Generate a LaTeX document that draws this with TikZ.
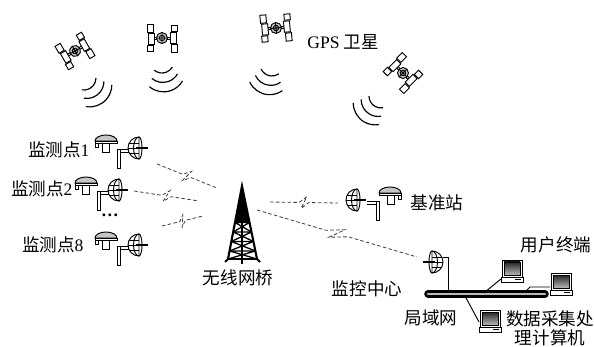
\documentclass[tikz,border=0pt]{standalone}
\usepackage{fontspec}
\setmainfont{Liberation Serif}
\newfontfamily\cjk{Noto Sans CJK SC}
\usetikzlibrary{calc}

\tikzset{
  lbl/.style={font=\fontsize{15}{16}\selectfont\cjk, inner sep=0pt},
  radio/.style={densely dashed, gray!50!black, line width=0.7pt},
  sat/.pic={
    \draw (-10,-1) -- (10,-1) (-10,1) -- (10,1);
    \foreach \a/\b/\c/\d in {-15/-14/-9/-6, -14/-5/-8/6, -15/7/-9/13, 9/-13/15/-7, 8/-6/14/5, 9/6/15/14}
      \draw[fill=white] (\a,\b) rectangle (\c,\d);
    \draw[fill=gray!45] (0,0) circle (5.5);
    \draw (0,0) circle (2.7) (-5.5,0) -- (5.5,0) (0,-5.5) -- (0,5.5);
  },
  waves/.pic={
    \foreach \k in {0,1,2}
      \draw[line width=1pt] ([shift={(0,4.5*\k)}]140:{12+5*\k}) arc[start angle=140, end angle=40, radius={12+5*\k}];
  },
  dish/.pic={
    \draw[fill=white] (0,-11) arc[start angle=270, end angle=90, radius=11] -- cycle;
    \draw (0,-11) arc[start angle=270, end angle=90, x radius=5.5, y radius=11];
    \draw (-9.8,-5) -- (0,-5) (-9.8,5) -- (0,5);
    \draw (0,-11) arc[start angle=-90, end angle=90, x radius=3, y radius=11];
    \draw (-11,0) -- (-3,0);
    \draw[line width=2pt] (-3,0) -- (9,0);
  },
  rover/.pic={
    \draw[fill=white] (-22,1) rectangle (-19,20);
    \draw (-19,1) -- (-10,1) (-19,4) -- (-10.3,4);
    \draw[fill=gray!45] (-44,-7) arc[start angle=180, end angle=360, x radius=11, y radius=6] -- cycle;
    \draw[fill=white] (-44,-7) rectangle (-22,-5);
    \draw (-44,-5) -- (-44,-1) -- (-41,-1) -- (-41,-5);
    \draw[fill=white] (-37,-5) rectangle (-30,4);
    \pic {dish};
  },
  pc/.pic={
    \draw[fill=white] (-10,-22) rectangle (10,-5);
    \shade[top color=black!85, bottom color=gray!55] (-8,-20) rectangle (8,-7);
    \draw (-8,-20) rectangle (8,-7);
    \draw[fill=white] (-11,-5) rectangle (11,0);
    \draw (3,-2.5) -- (9,-2.5);
  }
}

% dashed radio link with a small zigzag in the middle
\newcommand\wlink[2]{%
  \draw[radio] (#1) -- ($(#1)!0.43!(#2)$)
    -- ($($(#1)!0.54!(#2)$)!5pt!90:(#2)$)
    -- ($($(#1)!0.46!(#2)$)!5pt!-90:(#2)$)
    -- ($(#1)!0.57!(#2)$) -- (#2);}

\begin{document}
\begin{tikzpicture}[x=0.03cm, y=-0.03cm, line width=0.8pt]
  \path[fill=white] (0,0) rectangle (594,347);

  % satellites
  \pic[rotate=30] (sat1) at (75,51) {sat};
  \pic (sat2) at (162,38) {sat};
  \pic[rotate=5] (sat3) at (276,28) {sat};
  \pic[rotate=-45] (sat4) at (403,73) {sat};
  \pic[rotate=40] (w1) at (84,78) {waves};
  \pic[rotate=10] (w2) at (162,61) {waves};
  \pic[rotate=-15] (w3) at (272,64) {waves};
  \pic[rotate=-40] (w4) at (381,96) {waves};
  \node[lbl] (gps) at (343,42) {{\rmfamily GPS} 卫星};

  % stations
  \pic (pt1) at (139,148) {rover};
  \pic (pt2) at (119,190) {rover};
  \pic (pt8) at (139,245) {rover};
  \pic[xscale=-1] (base) at (357,200) {rover};
  \node[lbl, anchor=east] (lab1) at (90,150) {监测点{\rmfamily 1}};
  \node[lbl, anchor=east] (lab2) at (73,189) {监测点{\rmfamily 2}};
  \node[lbl, anchor=east] (lab8) at (84,245) {监测点{\rmfamily 8}};
  \node[lbl, font=\fontsize{15}{16}\selectfont\bfseries] (dots) at (110,215) {…};
  \node[lbl, anchor=west] (baselbl) at (410,203) {基准站};

  % tower
  \coordinate (top) at (242,186);
  \coordinate (bl) at (228,259);
  \coordinate (br) at (257,259);
  \fill (top) -- ($(top)!0.5!(bl)$) -- ($(top)!0.5!(br)$) -- cycle;
  \draw[line width=1.8pt] (bl) -- (top) -- (br);
  \draw[line width=1.5pt] (top) -- (242,264);
  \foreach \t/\u in {0.5/0.63,0.63/0.76,0.76/0.89,0.89/1}
    \draw[line width=1.1pt] ($(top)!\t!(bl)$) -- ($(top)!\t!(br)$)
      ($(top)!\t!(bl)$) -- ($(top)!\u!(br)$) ($(top)!\t!(br)$) -- ($(top)!\u!(bl)$);
  \draw[line width=1.1pt] (bl) -- (br);
  \draw[line width=1.8pt] (bl) -- ++(-3,3) (br) -- ++(3,3);
  \node[lbl] (bridge) at (238,278) {无线网桥};

  % radio links
  \coordinate (m1) at (157,164);
  \coordinate (t1) at (217,188);
  \coordinate (m2) at (134,191);
  \coordinate (t2) at (199,201);
  \coordinate (m8) at (162,226);
  \coordinate (t8) at (203,216);
  \coordinate (t4) at (270,202);
  \coordinate (b4) at (338,203);
  \coordinate (t5) at (257,210);
  \coordinate (c5) at (417,257);
  \wlink{m1}{t1}
  \wlink{m2}{t2}
  \wlink{m8}{t8}
  \wlink{t4}{b4}
  \wlink{t5}{c5}

  % control centre and LAN
  \pic[xscale=-1] (ctr) at (432,262) {dish};
  \node[lbl] (ctrlbl) at (367,289) {监控中心};
  \coordinate (ctrpole) at (443,257);
  \coordinate (lanL) at (428,294);
  \coordinate (lanR) at (545,294);
  \coordinate (lanA) at (448,294);
  \coordinate (lanB) at (485,292);
  \coordinate (lanC) at (525,292);
  \coordinate (lanD) at (465,296);
  \coordinate (pc1in) at (501,279);
  \coordinate (pc2in) at (550,287);
  \coordinate (pc3in) at (479,322);
  \draw (ctrpole) -| (lanA);
  \draw (lanB) -- (pc1in);
  \draw (lanC) -- (530,287) -- (pc2in);
  \draw (lanD) -- (pc3in);
  \draw[line width=6.5pt, line cap=round] (lanL) -- (lanR);
  \draw[line width=2.5pt, line cap=round, gray!55] (lanL) -- (lanR);
  \pic (pc1) at (512,282) {pc};
  \pic (pc2) at (561,295) {pc};
  \pic (pc3) at (490,332) {pc};
  \node[lbl] (lanlbl) at (431,318) {局域网};
  \node[lbl] (userlbl) at (556,245) {用户终端};
  \node[lbl, align=center] (daqlbl) at (550,328) {数据采集处\\理计算机};
\end{tikzpicture}
\end{document}
